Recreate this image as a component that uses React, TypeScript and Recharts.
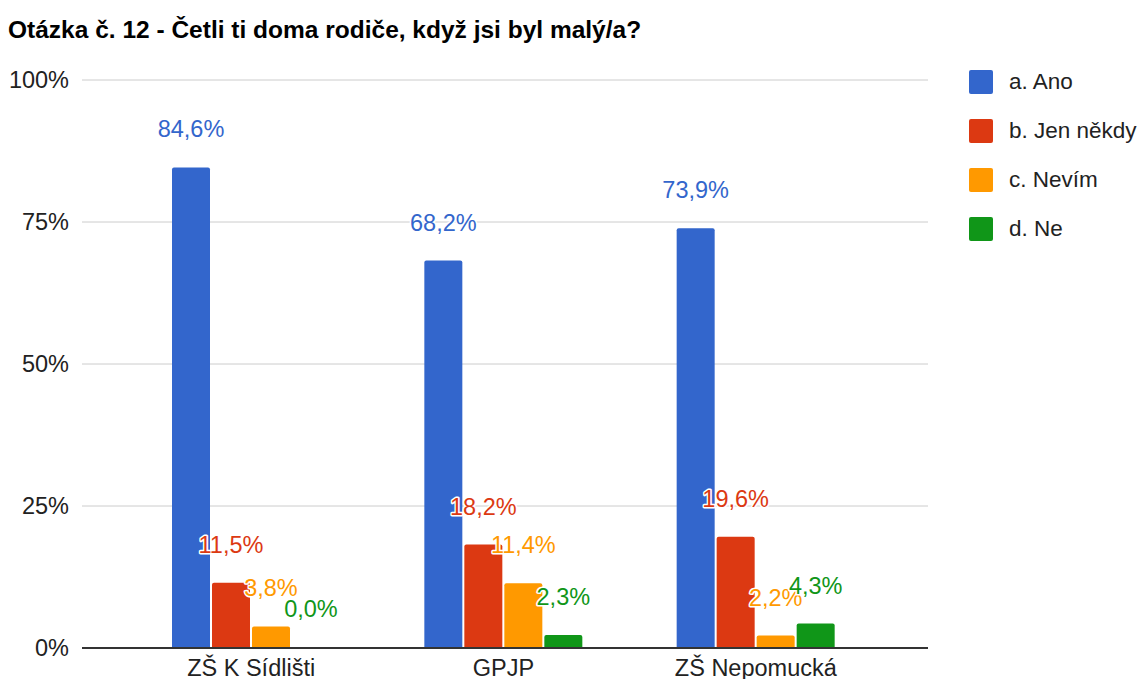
import React from "react";
import {
  BarChart,
  Bar,
  XAxis,
  YAxis,
  CartesianGrid,
  Legend,
  LabelList,
} from "recharts";

const SCHOOLS = ["ZŠ K Sídlišti", "GPJP", "ZŠ Nepomucká"];

const ANO = [84.6, 68.2, 73.9];
const JEN_NEKDY = [11.5, 18.2, 19.6];
const NEVIM = [3.8, 11.4, 2.2];
const NE = [0.0, 2.3, 4.3];

const Y_TICKS = [0, 25, 50, 75, 100];

const SERIES = [
  { key: "ano", name: "a. Ano", color: "#3366cc", values: ANO },
  { key: "jen", name: "b. Jen někdy", color: "#dc3912", values: JEN_NEKDY },
  { key: "nevim", name: "c. Nevím", color: "#ff9900", values: NEVIM },
  { key: "ne", name: "d. Ne", color: "#109618", values: NE },
];

const data = SCHOOLS.map((school, i) => {
  const row: Record<string, string | number> = { school };
  SERIES.forEach((s) => {
    row[s.key] = s.values[i];
  });
  return row;
});

const FONT = "Arial, 'Liberation Sans', sans-serif";
const FS = 23.5;

const fmt = (v: number) => `${v.toFixed(1).replace(".", ",")}%`;

const makeLabel = (color: string) => (props: any) => {
  const { x, y, width, value } = props;
  return (
    <text
      x={Number(x) + Number(width) / 2}
      y={Number(y) - 30}
      textAnchor="middle"
      fill={color}
      stroke="#fff"
      strokeWidth={3}
      strokeLinejoin="round"
      paintOrder="stroke"
      fontSize={FS}
      fontFamily={FONT}
    >
      {fmt(Number(value))}
    </text>
  );
};

const LegendContent = () => (
  <div style={{ fontFamily: FONT }}>
    {SERIES.map((s) => (
      <div
        key={s.key}
        style={{ display: "flex", alignItems: "center", height: 49 }}
      >
        <span
          style={{
            display: "inline-block",
            width: 24,
            height: 24,
            borderRadius: 2,
            background: s.color,
            marginRight: 16,
            flexShrink: 0,
          }}
        />
        <span style={{ fontSize: 22.5, color: "#222", whiteSpace: "nowrap" }}>
          {s.name}
        </span>
      </div>
    ))}
  </div>
);

export default function App() {
  return (
    <div
      style={{
        position: "relative",
        width: 1147,
        height: 687,
        margin: -8,
        background: "#fff",
        overflow: "hidden",
      }}
    >
      <div
        style={{
          position: "absolute",
          left: 8,
          top: 16,
          fontFamily: FONT,
          fontWeight: "bold",
          fontSize: 24.5,
          color: "#000",
          whiteSpace: "nowrap",
        }}
      >
        Otázka č. 12 - Četli ti doma rodiče, když jsi byl malý/a?
      </div>
      <BarChart
        width={1147}
        height={687}
        data={data}
        margin={{ top: 80, right: 41, bottom: 0, left: 0 }}
        barSize={38}
        barGap={2}
      >
        <CartesianGrid vertical={false} stroke="#cccccc" />
        <YAxis
          width={82}
          domain={[0, 100]}
          ticks={Y_TICKS}
          tickFormatter={(v) => `${v}%`}
          axisLine={false}
          tickLine={false}
          tickSize={0}
          tickMargin={13}
          tick={{ fontSize: FS, fill: "#222", fontFamily: FONT }}
        />
        <Legend
          layout="vertical"
          verticalAlign="top"
          align="right"
          content={<LegendContent />}
          wrapperStyle={{ left: 969, top: 57, width: 178 }}
        />
        {SERIES.map((s) => (
          <Bar
            key={s.key}
            dataKey={s.key}
            name={s.name}
            fill={s.color}
            radius={[2, 2, 0, 0]}
            minPointSize={1}
            isAnimationActive={false}
          >
            <LabelList dataKey={s.key} content={makeLabel(s.color)} />
          </Bar>
        ))}
        <XAxis
          dataKey="school"
          height={39}
          padding={{ left: 43, right: 46 }}
          tickLine={false}
          tickSize={0}
          tickMargin={11}
          axisLine={{ stroke: "#333", strokeWidth: 2 }}
          tick={{ fontSize: FS, fill: "#222", fontFamily: FONT }}
          interval={0}
        />
      </BarChart>
    </div>
  );
}
